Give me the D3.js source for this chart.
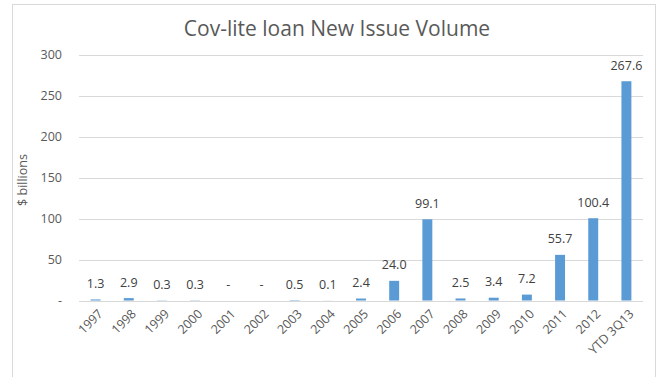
<!DOCTYPE html>
<html>
<head>
<meta charset="utf-8">
<script src="https://cdnjs.cloudflare.com/ajax/libs/d3/7.8.5/d3.min.js"></script>
<style>
  html, body { margin: 0; padding: 0; background: #fff; }
  svg { display: block; font-family: "Open Sans", "Noto Sans", sans-serif; }
</style>
</head>
<body>
<svg id="chart" width="660" height="377"></svg>
<script>
// Cov-lite loan new issue volume, $ billions
const categories = ["1997", "1998", "1999", "2000", "2001", "2002", "2003", "2004", "2005",
                    "2006", "2007", "2008", "2009", "2010", "2011", "2012", "YTD 3Q13"];
const volumes = [1.3, 2.9, 0.3, 0.3, 0, 0, 0.5, 0.1, 2.4, 24.0, 99.1, 2.5, 3.4, 7.2, 55.7, 100.4, 267.6];
const yTicks = [0, 50, 100, 150, 200, 250, 300];
const chartTitle = "Cov-lite loan New Issue Volume";
const yAxisTitle = "$ billions";

const svg = d3.select("#chart");
const plot = { left: 79, right: 643, top: 54.7, bottom: 300.5 };

// outer frame (runs past the bottom edge)
svg.append("rect")
  .attr("x", 12.5).attr("y", 4.5)
  .attr("width", 643).attr("height", 400)
  .attr("fill", "#fff").attr("stroke", "#d9d9d9").attr("stroke-width", 1);

const x = d3.scaleBand()
  .domain(categories)
  .range([plot.left, plot.right])
  .paddingInner(0.7)
  .paddingOuter(0.35);

const y = d3.scaleLinear()
  .domain([0, 300])
  .range([plot.bottom, plot.top]);

// horizontal gridlines
svg.append("g")
  .selectAll("line")
  .data(yTicks)
  .join("line")
  .attr("x1", plot.left).attr("x2", plot.right)
  .attr("y1", d => Math.round(y(d)) + 0.5)
  .attr("y2", d => Math.round(y(d)) + 0.5)
  .attr("stroke", "#d9d9d9").attr("stroke-width", 1);

// y axis labels
const yAxis = d3.axisLeft(y)
  .tickValues(yTicks)
  .tickSize(0)
  .tickPadding(0)
  .tickFormat(d => d === 0 ? "-" : d3.format("d")(d));

svg.append("g")
  .attr("transform", `translate(${plot.left - 17},0)`)
  .call(yAxis)
  .call(g => g.select(".domain").remove())
  .call(g => g.selectAll("text")
    .attr("fill", "#595959")
    .style("font-size", "12.5px")
    .style("font-family", "\"Open Sans\", sans-serif"));

// bars
svg.append("g")
  .selectAll("rect")
  .data(volumes)
  .join("rect")
  .attr("x", (d, i) => x(categories[i]))
  .attr("width", x.bandwidth())
  .attr("y", d => y(d))
  .attr("height", d => y(0) - y(d))
  .attr("fill", "#5b9bd5");

// value labels
svg.append("g")
  .selectAll("text")
  .data(volumes)
  .join("text")
  .attr("x", (d, i) => x(categories[i]) + x.bandwidth() / 2)
  .attr("y", d => y(d) - 11.5)
  .attr("text-anchor", "middle")
  .attr("fill", "#404040")
  .style("font-size", "12.5px")
  .text(d => d === 0 ? "-" : d3.format(".1f")(d));

// category labels, rotated
const xAxis = d3.axisBottom(x).tickSize(0).tickPadding(0);
svg.append("g")
  .attr("transform", `translate(0,${plot.bottom})`)
  .call(xAxis)
  .call(g => g.select(".domain").remove())
  .call(g => g.selectAll("text")
    .attr("fill", "#595959")
    .style("font-size", "12.5px")
    .style("font-family", "\"Open Sans\", sans-serif")
    .attr("text-anchor", "end")
    .attr("dy", "0.35em")
    .attr("transform", "translate(5,11) rotate(-45)"));

// title
svg.append("text")
  .attr("x", 337).attr("y", 36)
  .attr("text-anchor", "middle")
  .attr("fill", "#595959")
  .style("font-size", "21px")
  .text(chartTitle);

// y axis title
svg.append("text")
  .attr("transform", "translate(27,180) rotate(-90)")
  .attr("text-anchor", "middle")
  .attr("fill", "#595959")
  .style("font-size", "12.5px")
  .text(yAxisTitle);
</script>
</body>
</html>
